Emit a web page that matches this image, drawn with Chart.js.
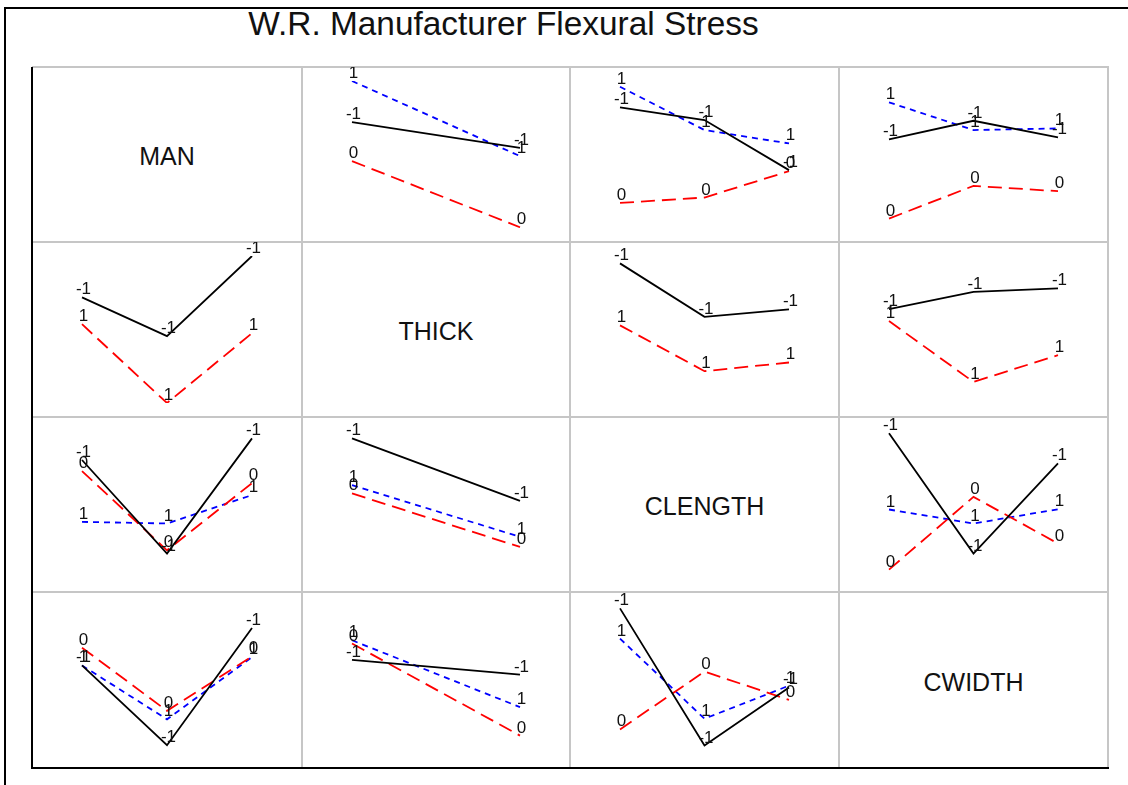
<!DOCTYPE html>
<html>
<head>
<meta charset="utf-8">
<script src="https://cdn.jsdelivr.net/npm/chart.js@4/dist/chart.umd.min.js"></script>
<style>
  body { margin: 0; background: #fff; width: 1128px; height: 785px; overflow: hidden; position: relative; font-family: "Liberation Sans", Arial, sans-serif; }
  .frame { position: absolute; left: 4px; top: 7px; width: 1130px; height: 790px; border-left: 2px solid #000; border-top: 2px solid #000; }
  .title { position: absolute; left: 0; top: 7px; width: 1007px; text-align: center; font-size: 33.4px; line-height: 33px; color: #111; }
  .line { position: absolute; }
  .cell { position: absolute; }
  .diag { display: flex; align-items: center; justify-content: center; font-size: 25px; color: #111; padding-top: 4px; box-sizing: border-box; }
  canvas { position: absolute; }
</style>
</head>
<body>
<div class="frame"></div>
<div class="title">W.R. Manufacturer Flexural Stress</div>
<div id="grid"></div>
<script>
// factor names and their coded levels
const factors = ['MAN', 'THICK', 'CLENGTH', 'CWIDTH'];
const manLevels = ['-1', '0', '1'];
const thickLevels = ['-1', '1'];
const clengthLevels = ['-1', '0', '1'];
const cwidthLevels = ['-1', '0', '1'];

// cell means (relative units), one row per level of the row factor,
// one value per level of the column factor
const man_thick = [[72.1, 54.6], [45.6, 0.7], [100.0, 49.0]];
const man_clength = [[82.1, 73.5, 39.5], [17.2, 20.9, 38.8], [96.1, 66.7, 57.6]];
const man_cwidth = [[60.3, 73.0, 61.8], [6.6, 28.8, 25.2], [85.5, 66.7, 67.8]];
const thick_man = [[71.9, 45.6, 100.0], [53.7, 0.2, 47.6]];
const thick_clength = [[95.0, 58.7, 63.7], [52.9, 21.8, 27.7]];
const thick_cwidth = [[63.9, 75.7, 78.0], [55.8, 14.5, 32.7]];
const clength_man = [[80.3, 16.8, 95.0], [72.8, 19.0, 64.6], [38.3, 37.2, 56.5]];
const clength_thick = [[95.0, 52.6], [57.6, 21.3], [63.3, 28.1]];
const clength_cwidth = [[98.4, 16.8, 78.0], [5.9, 55.3, 23.6], [46.7, 37.2, 46.9]];
const cwidth_man = [[59.9, 6.1, 85.2], [71.9, 29.3, 66.0], [59.9, 23.6, 65.5]];
const cwidth_thick = [[63.7, 53.7], [74.7, 12.6], [76.9, 31.8]];
const cwidth_clength = [[98.4, 5.9, 45.1], [16.8, 55.8, 36.7], [78.0, 24.0, 46.3]];

const levelSets = [manLevels, thickLevels, clengthLevels, cwidthLevels];
const panels = [
  [null, man_thick, man_clength, man_cwidth],
  [thick_man, null, thick_clength, thick_cwidth],
  [clength_man, clength_thick, null, clength_cwidth],
  [cwidth_man, cwidth_thick, cwidth_clength, null]
];

// line styles in trace order
const styles = [
  { color: '#000000', dash: [] },
  { color: '#ff0000', dash: [14, 7] },
  { color: '#0000ff', dash: [6, 5] }
];

// shared y range for all panels
const allValues = panels.flat().filter(p => p).flat(2);
const yMin = Math.min(...allValues);
const yMax = Math.max(...allValues);

const colEdges = [32, 302, 570, 839, 1108];
const rowEdges = [67, 242, 417, 592, 768];
const grid = document.getElementById('grid');

function addLine(x, y, w, h, color) {
  const d = document.createElement('div');
  d.className = 'line';
  Object.assign(d.style, { left: x + 'px', top: y + 'px', width: w + 'px', height: h + 'px', background: color });
  grid.appendChild(d);
}

// gray grid lines
for (let i = 0; i < 5; i++) {
  addLine(colEdges[0], rowEdges[i] - 1, colEdges[4] - colEdges[0] + 1, 2, '#c6c6c6');
  addLine(colEdges[i] - 1, rowEdges[0], 2, rowEdges[4] - rowEdges[0], '#c6c6c6');
}
// black left and bottom edges
addLine(colEdges[0] - 1, rowEdges[0], 2, rowEdges[4] - rowEdges[0] + 1, '#000');
addLine(colEdges[0] - 1, rowEdges[4] - 1, colEdges[4] - colEdges[0] + 2, 2, '#000');

const pointLabels = {
  id: 'pointLabels',
  afterDatasetsDraw(chart) {
    const ctx = chart.ctx;
    ctx.save();
    ctx.font = '17px "Liberation Sans", Arial, sans-serif';
    ctx.fillStyle = '#111';
    ctx.textAlign = 'center';
    ctx.textBaseline = 'alphabetic';
    chart.data.datasets.forEach((ds, i) => {
      chart.getDatasetMeta(i).data.forEach(pt => ctx.fillText(ds.label, pt.x + 1.5, pt.y - 3));
    });
    ctx.restore();
  }
};

for (let r = 0; r < 4; r++) {
  for (let c = 0; c < 4; c++) {
    const x = colEdges[c], y = rowEdges[r];
    const w = colEdges[c + 1] - x, h = rowEdges[r + 1] - y;
    if (r === c) {
      const d = document.createElement('div');
      d.className = 'cell diag';
      Object.assign(d.style, { left: x + 'px', top: y + 'px', width: w + 'px', height: h + 'px' });
      d.textContent = factors[r];
      grid.appendChild(d);
      continue;
    }
    const canvas = document.createElement('canvas');
    canvas.width = w;
    canvas.height = h;
    canvas.style.left = x + 'px';
    canvas.style.top = y + 'px';
    grid.appendChild(canvas);

    const traces = panels[r][c];
    new Chart(canvas, {
      type: 'line',
      data: {
        labels: levelSets[c],
        datasets: traces.map((vals, k) => ({
          label: levelSets[r][k],
          data: vals,
          borderColor: styles[k].color,
          borderDash: styles[k].dash,
          borderWidth: 1.8,
          pointRadius: 0,
          tension: 0,
          fill: false
        }))
      },
      options: {
        responsive: false,
        animation: false,
        layout: { padding: { left: 50, right: 50, top: 14, bottom: 14 } },
        scales: {
          x: { display: false, offset: false },
          y: { display: false, min: yMin, max: yMax }
        },
        plugins: { legend: { display: false }, tooltip: { enabled: false } }
      },
      plugins: [pointLabels]
    });
  }
}
</script>
</body>
</html>
